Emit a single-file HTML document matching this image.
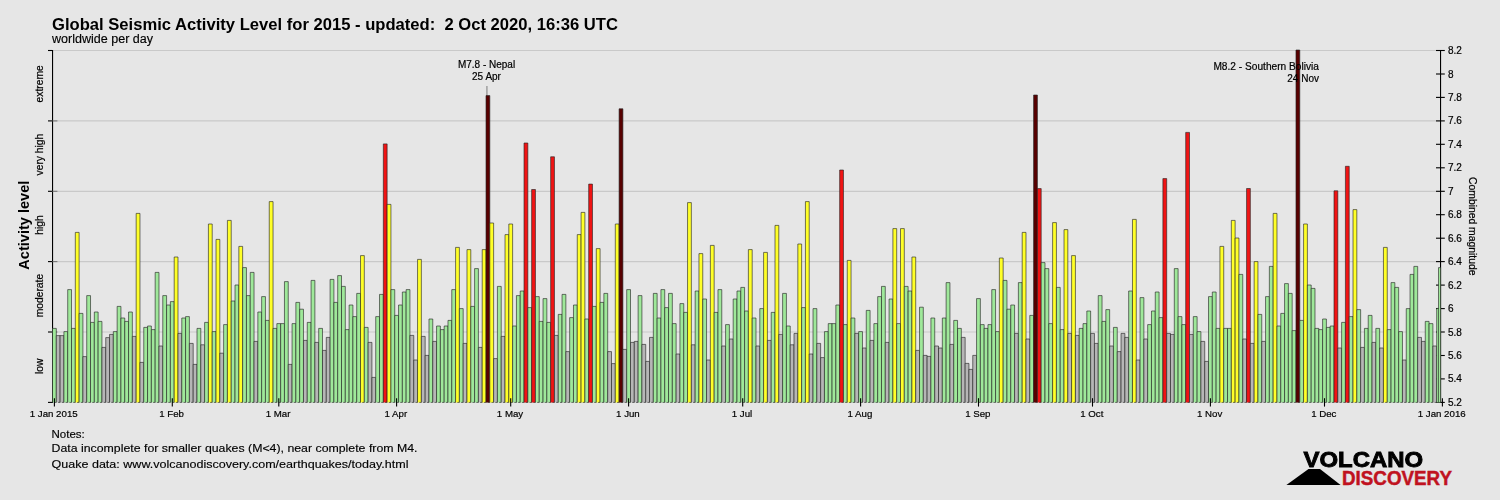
<!DOCTYPE html>
<html><head><meta charset="utf-8"><title>Global Seismic Activity Level for 2015</title>
<style>
html,body{margin:0;padding:0;background:#e6e6e6;}
body{width:1500px;height:500px;overflow:hidden;font-family:"Liberation Sans",sans-serif;}
svg{display:block;font-family:"Liberation Sans",sans-serif;}
.k{filter:grayscale(1)}
.g{fill:#b6b6b6}.n{fill:#9fe89a}.y{fill:#ffff28}.r{fill:#f01414}.d{fill:#580000}
.b path{stroke:#222;stroke-opacity:.62;stroke-width:1}
.t{font-size:10px;fill:#000;stroke:#000;stroke-width:.2px}
</style></head><body>
<svg width="1500" height="500" viewBox="0 0 1500 500">
<rect width="1500" height="500" fill="#e6e6e6"/>

<line x1="53" y1="50.5" x2="1440" y2="50.5" stroke="#c9c9c9" stroke-width="1.2"/>
<line x1="53" y1="120.9" x2="1440" y2="120.9" stroke="#c9c9c9" stroke-width="1.2"/>
<line x1="53" y1="191.3" x2="1440" y2="191.3" stroke="#c9c9c9" stroke-width="1.2"/>
<line x1="53" y1="261.6" x2="1440" y2="261.6" stroke="#c9c9c9" stroke-width="1.2"/>
<line x1="53" y1="332.0" x2="1440" y2="332.0" stroke="#c9c9c9" stroke-width="1.2"/>
<line x1="52.55" y1="50" x2="52.55" y2="402.9" stroke="#000" stroke-width="1.1"/>
<line x1="1440.55" y1="50" x2="1440.55" y2="402.9" stroke="#000" stroke-width="1.1"/>
<line x1="48" y1="50.5" x2="52.5" y2="50.5" stroke="#000" stroke-width="1.1"/>
<line x1="48" y1="120.9" x2="52.5" y2="120.9" stroke="#000" stroke-width="1.1"/>
<line x1="52.5" y1="120.9" x2="57.4" y2="120.9" stroke="#777" stroke-width="1.1"/>
<line x1="48" y1="191.3" x2="52.5" y2="191.3" stroke="#000" stroke-width="1.1"/>
<line x1="52.5" y1="191.3" x2="57.4" y2="191.3" stroke="#777" stroke-width="1.1"/>
<line x1="48" y1="261.6" x2="52.5" y2="261.6" stroke="#000" stroke-width="1.1"/>
<line x1="52.5" y1="261.6" x2="57.4" y2="261.6" stroke="#777" stroke-width="1.1"/>
<line x1="48" y1="332.0" x2="52.5" y2="332.0" stroke="#000" stroke-width="1.1"/>
<line x1="52.5" y1="332.0" x2="57.4" y2="332.0" stroke="#777" stroke-width="1.1"/>
<line x1="48" y1="402.4" x2="52.5" y2="402.4" stroke="#000" stroke-width="1.1"/>
<line x1="1436" y1="402.4" x2="1444.8" y2="402.4" stroke="#000" stroke-width="1.1"/>
<line x1="1436" y1="378.9" x2="1444.8" y2="378.9" stroke="#000" stroke-width="1.1"/>
<line x1="1436" y1="355.5" x2="1444.8" y2="355.5" stroke="#000" stroke-width="1.1"/>
<line x1="1436" y1="332.0" x2="1444.8" y2="332.0" stroke="#000" stroke-width="1.1"/>
<line x1="1436" y1="308.6" x2="1444.8" y2="308.6" stroke="#000" stroke-width="1.1"/>
<line x1="1436" y1="285.1" x2="1444.8" y2="285.1" stroke="#000" stroke-width="1.1"/>
<line x1="1436" y1="261.6" x2="1444.8" y2="261.6" stroke="#000" stroke-width="1.1"/>
<line x1="1436" y1="238.2" x2="1444.8" y2="238.2" stroke="#000" stroke-width="1.1"/>
<line x1="1436" y1="214.7" x2="1444.8" y2="214.7" stroke="#000" stroke-width="1.1"/>
<line x1="1436" y1="191.3" x2="1444.8" y2="191.3" stroke="#000" stroke-width="1.1"/>
<line x1="1436" y1="167.8" x2="1444.8" y2="167.8" stroke="#000" stroke-width="1.1"/>
<line x1="1436" y1="144.3" x2="1444.8" y2="144.3" stroke="#000" stroke-width="1.1"/>
<line x1="1436" y1="120.9" x2="1444.8" y2="120.9" stroke="#000" stroke-width="1.1"/>
<line x1="1436" y1="97.4" x2="1444.8" y2="97.4" stroke="#000" stroke-width="1.1"/>
<line x1="1436" y1="74.0" x2="1444.8" y2="74.0" stroke="#000" stroke-width="1.1"/>
<line x1="1436" y1="50.5" x2="1444.8" y2="50.5" stroke="#000" stroke-width="1.1"/>
<line x1="486.9" y1="86" x2="486.9" y2="96" stroke="#a4a4a4" stroke-width="1.6"/>
<g class="b">
<path class="n" d="M52.50,402.4V328.4h3.80V402.4h-2.09"/>
<path class="g" d="M56.30,402.4V335.6h3.80V402.4h-2.09"/>
<path class="g" d="M60.11,402.4V335.6h3.80V402.4h-2.09"/>
<path class="n" d="M63.91,402.4V331.6h3.80V402.4h-2.09"/>
<path class="n" d="M67.71,402.4V289.6h3.80V402.4h-2.09"/>
<path class="n" d="M71.51,402.4V328.4h3.80V402.4h-2.09"/>
<path class="y" d="M75.32,402.4V232.4h3.80V402.4h-2.09"/>
<path class="n" d="M79.12,402.4V313.4h3.80V402.4h-2.09"/>
<path class="g" d="M82.92,402.4V356.6h3.80V402.4h-2.09"/>
<path class="n" d="M86.72,402.4V295.6h3.80V402.4h-2.09"/>
<path class="n" d="M90.53,402.4V322.4h3.80V402.4h-2.09"/>
<path class="n" d="M94.33,402.4V312.0h3.80V402.4h-2.09"/>
<path class="n" d="M98.13,402.4V321.4h3.80V402.4h-2.09"/>
<path class="g" d="M101.94,402.4V347.4h3.80V402.4h-2.09"/>
<path class="g" d="M105.74,402.4V337.6h3.80V402.4h-2.09"/>
<path class="g" d="M109.54,402.4V334.4h3.80V402.4h-2.09"/>
<path class="n" d="M113.34,402.4V331.6h3.80V402.4h-2.09"/>
<path class="n" d="M117.15,402.4V306.4h3.80V402.4h-2.09"/>
<path class="n" d="M120.95,402.4V318.0h3.80V402.4h-2.09"/>
<path class="n" d="M124.75,402.4V321.4h3.80V402.4h-2.09"/>
<path class="n" d="M128.55,402.4V312.0h3.80V402.4h-2.09"/>
<path class="g" d="M132.36,402.4V336.4h3.80V402.4h-2.09"/>
<path class="y" d="M136.16,402.4V213.4h3.80V402.4h-2.09"/>
<path class="g" d="M139.96,402.4V362.4h3.80V402.4h-2.09"/>
<path class="n" d="M143.76,402.4V327.4h3.80V402.4h-2.09"/>
<path class="n" d="M147.57,402.4V326.0h3.80V402.4h-2.09"/>
<path class="n" d="M151.37,402.4V329.6h3.80V402.4h-2.09"/>
<path class="n" d="M155.17,402.4V272.4h3.80V402.4h-2.09"/>
<path class="g" d="M158.98,402.4V346.0h3.80V402.4h-2.09"/>
<path class="n" d="M162.78,402.4V295.6h3.80V402.4h-2.09"/>
<path class="n" d="M166.58,402.4V305.0h3.80V402.4h-2.09"/>
<path class="n" d="M170.38,402.4V301.6h3.80V402.4h-2.09"/>
<path class="y" d="M174.19,402.4V257.0h3.80V402.4h-2.09"/>
<path class="g" d="M177.99,402.4V333.4h3.80V402.4h-2.09"/>
<path class="n" d="M181.79,402.4V318.0h3.80V402.4h-2.09"/>
<path class="n" d="M185.59,402.4V316.6h3.80V402.4h-2.09"/>
<path class="g" d="M189.40,402.4V343.4h3.80V402.4h-2.09"/>
<path class="g" d="M193.20,402.4V364.4h3.80V402.4h-2.09"/>
<path class="n" d="M197.00,402.4V328.4h3.80V402.4h-2.09"/>
<path class="g" d="M200.81,402.4V344.8h3.80V402.4h-2.09"/>
<path class="n" d="M204.61,402.4V322.4h3.80V402.4h-2.09"/>
<path class="y" d="M208.41,402.4V224.0h3.80V402.4h-2.09"/>
<path class="n" d="M212.21,402.4V331.6h3.80V402.4h-2.09"/>
<path class="y" d="M216.02,402.4V239.4h3.80V402.4h-2.09"/>
<path class="g" d="M219.82,402.4V353.2h3.80V402.4h-2.09"/>
<path class="n" d="M223.62,402.4V324.6h3.80V402.4h-2.09"/>
<path class="y" d="M227.42,402.4V220.4h3.80V402.4h-2.09"/>
<path class="n" d="M231.23,402.4V301.0h3.80V402.4h-2.09"/>
<path class="n" d="M235.03,402.4V285.0h3.80V402.4h-2.09"/>
<path class="y" d="M238.83,402.4V246.4h3.80V402.4h-2.09"/>
<path class="n" d="M242.64,402.4V267.6h3.80V402.4h-2.09"/>
<path class="n" d="M246.44,402.4V295.6h3.80V402.4h-2.09"/>
<path class="n" d="M250.24,402.4V272.4h3.80V402.4h-2.09"/>
<path class="g" d="M254.04,402.4V341.4h3.80V402.4h-2.09"/>
<path class="n" d="M257.85,402.4V312.0h3.80V402.4h-2.09"/>
<path class="n" d="M261.65,402.4V296.6h3.80V402.4h-2.09"/>
<path class="n" d="M265.45,402.4V320.4h3.80V402.4h-2.09"/>
<path class="y" d="M269.25,402.4V201.6h3.80V402.4h-2.09"/>
<path class="n" d="M273.06,402.4V328.4h3.80V402.4h-2.09"/>
<path class="n" d="M276.86,402.4V323.6h3.80V402.4h-2.09"/>
<path class="n" d="M280.66,402.4V323.6h3.80V402.4h-2.09"/>
<path class="n" d="M284.46,402.4V281.6h3.80V402.4h-2.09"/>
<path class="g" d="M288.27,402.4V364.4h3.80V402.4h-2.09"/>
<path class="n" d="M292.07,402.4V323.6h3.80V402.4h-2.09"/>
<path class="n" d="M295.87,402.4V302.4h3.80V402.4h-2.09"/>
<path class="n" d="M299.68,402.4V309.2h3.80V402.4h-2.09"/>
<path class="g" d="M303.48,402.4V340.4h3.80V402.4h-2.09"/>
<path class="n" d="M307.28,402.4V322.4h3.80V402.4h-2.09"/>
<path class="n" d="M311.08,402.4V280.4h3.80V402.4h-2.09"/>
<path class="g" d="M314.89,402.4V342.4h3.80V402.4h-2.09"/>
<path class="n" d="M318.69,402.4V328.4h3.80V402.4h-2.09"/>
<path class="g" d="M322.49,402.4V350.4h3.80V402.4h-2.09"/>
<path class="g" d="M326.29,402.4V337.4h3.80V402.4h-2.09"/>
<path class="n" d="M330.10,402.4V279.4h3.80V402.4h-2.09"/>
<path class="n" d="M333.90,402.4V302.4h3.80V402.4h-2.09"/>
<path class="n" d="M337.70,402.4V275.6h3.80V402.4h-2.09"/>
<path class="n" d="M341.51,402.4V286.4h3.80V402.4h-2.09"/>
<path class="n" d="M345.31,402.4V329.6h3.80V402.4h-2.09"/>
<path class="n" d="M349.11,402.4V305.0h3.80V402.4h-2.09"/>
<path class="n" d="M352.91,402.4V316.6h3.80V402.4h-2.09"/>
<path class="n" d="M356.72,402.4V293.4h3.80V402.4h-2.09"/>
<path class="y" d="M360.52,402.4V255.6h3.80V402.4h-2.09"/>
<path class="n" d="M364.32,402.4V327.4h3.80V402.4h-2.09"/>
<path class="g" d="M368.12,402.4V342.4h3.80V402.4h-2.09"/>
<path class="g" d="M371.93,402.4V377.4h3.80V402.4h-2.09"/>
<path class="n" d="M375.73,402.4V316.6h3.80V402.4h-2.09"/>
<path class="n" d="M379.53,402.4V294.4h3.80V402.4h-2.09"/>
<path class="r" d="M383.33,402.4V143.9h3.80V402.4h-2.09"/>
<path class="y" d="M387.14,402.4V204.4h3.80V402.4h-2.09"/>
<path class="n" d="M390.94,402.4V289.6h3.80V402.4h-2.09"/>
<path class="n" d="M394.74,402.4V315.4h3.80V402.4h-2.09"/>
<path class="n" d="M398.55,402.4V305.0h3.80V402.4h-2.09"/>
<path class="n" d="M402.35,402.4V292.0h3.80V402.4h-2.09"/>
<path class="n" d="M406.15,402.4V289.6h3.80V402.4h-2.09"/>
<path class="g" d="M409.95,402.4V335.4h3.80V402.4h-2.09"/>
<path class="g" d="M413.76,402.4V360.0h3.80V402.4h-2.09"/>
<path class="y" d="M417.56,402.4V259.4h3.80V402.4h-2.09"/>
<path class="g" d="M421.36,402.4V336.4h3.80V402.4h-2.09"/>
<path class="g" d="M425.16,402.4V355.4h3.80V402.4h-2.09"/>
<path class="n" d="M428.97,402.4V319.0h3.80V402.4h-2.09"/>
<path class="g" d="M432.77,402.4V341.4h3.80V402.4h-2.09"/>
<path class="n" d="M436.57,402.4V326.0h3.80V402.4h-2.09"/>
<path class="n" d="M440.38,402.4V329.6h3.80V402.4h-2.09"/>
<path class="n" d="M444.18,402.4V326.0h3.80V402.4h-2.09"/>
<path class="n" d="M447.98,402.4V320.4h3.80V402.4h-2.09"/>
<path class="n" d="M451.78,402.4V289.6h3.80V402.4h-2.09"/>
<path class="y" d="M455.59,402.4V247.4h3.80V402.4h-2.09"/>
<path class="n" d="M459.39,402.4V308.6h3.80V402.4h-2.09"/>
<path class="g" d="M463.19,402.4V343.4h3.80V402.4h-2.09"/>
<path class="y" d="M466.99,402.4V249.6h3.80V402.4h-2.09"/>
<path class="n" d="M470.80,402.4V306.4h3.80V402.4h-2.09"/>
<path class="n" d="M474.60,402.4V268.6h3.80V402.4h-2.09"/>
<path class="g" d="M478.40,402.4V347.4h3.80V402.4h-2.09"/>
<path class="y" d="M482.21,402.4V249.6h3.80V402.4h-2.09"/>
<path class="d" d="M486.01,402.4V95.6h3.80V402.4h-2.09"/>
<path class="y" d="M489.81,402.4V223.0h3.80V402.4h-2.09"/>
<path class="g" d="M493.61,402.4V358.6h3.80V402.4h-2.09"/>
<path class="n" d="M497.42,402.4V286.4h3.80V402.4h-2.09"/>
<path class="g" d="M501.22,402.4V336.4h3.80V402.4h-2.09"/>
<path class="y" d="M505.02,402.4V234.6h3.80V402.4h-2.09"/>
<path class="y" d="M508.82,402.4V224.0h3.80V402.4h-2.09"/>
<path class="n" d="M512.63,402.4V326.0h3.80V402.4h-2.09"/>
<path class="n" d="M516.43,402.4V295.6h3.80V402.4h-2.09"/>
<path class="n" d="M520.23,402.4V291.0h3.80V402.4h-2.09"/>
<path class="r" d="M524.03,402.4V143.0h3.80V402.4h-2.09"/>
<path class="n" d="M527.84,402.4V307.6h3.80V402.4h-2.09"/>
<path class="r" d="M531.64,402.4V189.5h3.80V402.4h-2.09"/>
<path class="n" d="M535.44,402.4V296.6h3.80V402.4h-2.09"/>
<path class="n" d="M539.25,402.4V321.4h3.80V402.4h-2.09"/>
<path class="n" d="M543.05,402.4V298.6h3.80V402.4h-2.09"/>
<path class="n" d="M546.85,402.4V322.4h3.80V402.4h-2.09"/>
<path class="r" d="M550.65,402.4V156.8h3.80V402.4h-2.09"/>
<path class="g" d="M554.46,402.4V335.4h3.80V402.4h-2.09"/>
<path class="n" d="M558.26,402.4V314.4h3.80V402.4h-2.09"/>
<path class="n" d="M562.06,402.4V294.4h3.80V402.4h-2.09"/>
<path class="g" d="M565.86,402.4V351.6h3.80V402.4h-2.09"/>
<path class="n" d="M569.67,402.4V317.6h3.80V402.4h-2.09"/>
<path class="n" d="M573.47,402.4V305.0h3.80V402.4h-2.09"/>
<path class="y" d="M577.27,402.4V234.6h3.80V402.4h-2.09"/>
<path class="y" d="M581.08,402.4V212.4h3.80V402.4h-2.09"/>
<path class="n" d="M584.88,402.4V319.0h3.80V402.4h-2.09"/>
<path class="r" d="M588.68,402.4V184.1h3.80V402.4h-2.09"/>
<path class="n" d="M592.48,402.4V306.4h3.80V402.4h-2.09"/>
<path class="y" d="M596.29,402.4V248.6h3.80V402.4h-2.09"/>
<path class="n" d="M600.09,402.4V302.4h3.80V402.4h-2.09"/>
<path class="n" d="M603.89,402.4V293.4h3.80V402.4h-2.09"/>
<path class="g" d="M607.69,402.4V351.6h3.80V402.4h-2.09"/>
<path class="g" d="M611.50,402.4V363.6h3.80V402.4h-2.09"/>
<path class="y" d="M615.30,402.4V224.0h3.80V402.4h-2.09"/>
<path class="d" d="M619.10,402.4V108.8h3.80V402.4h-2.09"/>
<path class="g" d="M622.90,402.4V349.4h3.80V402.4h-2.09"/>
<path class="n" d="M626.71,402.4V289.6h3.80V402.4h-2.09"/>
<path class="g" d="M630.51,402.4V342.4h3.80V402.4h-2.09"/>
<path class="g" d="M634.31,402.4V341.4h3.80V402.4h-2.09"/>
<path class="n" d="M638.12,402.4V295.6h3.80V402.4h-2.09"/>
<path class="g" d="M641.92,402.4V344.4h3.80V402.4h-2.09"/>
<path class="g" d="M645.72,402.4V361.4h3.80V402.4h-2.09"/>
<path class="g" d="M649.52,402.4V337.4h3.80V402.4h-2.09"/>
<path class="n" d="M653.33,402.4V293.4h3.80V402.4h-2.09"/>
<path class="n" d="M657.13,402.4V318.0h3.80V402.4h-2.09"/>
<path class="n" d="M660.93,402.4V289.6h3.80V402.4h-2.09"/>
<path class="n" d="M664.73,402.4V307.6h3.80V402.4h-2.09"/>
<path class="n" d="M668.54,402.4V293.4h3.80V402.4h-2.09"/>
<path class="n" d="M672.34,402.4V323.6h3.80V402.4h-2.09"/>
<path class="g" d="M676.14,402.4V354.0h3.80V402.4h-2.09"/>
<path class="n" d="M679.95,402.4V303.6h3.80V402.4h-2.09"/>
<path class="n" d="M683.75,402.4V312.4h3.80V402.4h-2.09"/>
<path class="y" d="M687.55,402.4V202.6h3.80V402.4h-2.09"/>
<path class="g" d="M691.35,402.4V344.8h3.80V402.4h-2.09"/>
<path class="n" d="M695.16,402.4V291.0h3.80V402.4h-2.09"/>
<path class="y" d="M698.96,402.4V253.6h3.80V402.4h-2.09"/>
<path class="n" d="M702.76,402.4V299.0h3.80V402.4h-2.09"/>
<path class="g" d="M706.56,402.4V360.0h3.80V402.4h-2.09"/>
<path class="y" d="M710.37,402.4V245.4h3.80V402.4h-2.09"/>
<path class="n" d="M714.17,402.4V312.4h3.80V402.4h-2.09"/>
<path class="n" d="M717.97,402.4V289.6h3.80V402.4h-2.09"/>
<path class="g" d="M721.78,402.4V346.0h3.80V402.4h-2.09"/>
<path class="n" d="M725.58,402.4V324.6h3.80V402.4h-2.09"/>
<path class="g" d="M729.38,402.4V339.0h3.80V402.4h-2.09"/>
<path class="n" d="M733.18,402.4V299.0h3.80V402.4h-2.09"/>
<path class="n" d="M736.99,402.4V291.0h3.80V402.4h-2.09"/>
<path class="n" d="M740.79,402.4V287.4h3.80V402.4h-2.09"/>
<path class="n" d="M744.59,402.4V311.0h3.80V402.4h-2.09"/>
<path class="y" d="M748.39,402.4V249.6h3.80V402.4h-2.09"/>
<path class="n" d="M752.20,402.4V318.0h3.80V402.4h-2.09"/>
<path class="g" d="M756.00,402.4V346.0h3.80V402.4h-2.09"/>
<path class="n" d="M759.80,402.4V308.6h3.80V402.4h-2.09"/>
<path class="y" d="M763.60,402.4V252.4h3.80V402.4h-2.09"/>
<path class="g" d="M767.41,402.4V340.4h3.80V402.4h-2.09"/>
<path class="n" d="M771.21,402.4V312.4h3.80V402.4h-2.09"/>
<path class="y" d="M775.01,402.4V225.4h3.80V402.4h-2.09"/>
<path class="g" d="M778.82,402.4V334.4h3.80V402.4h-2.09"/>
<path class="n" d="M782.62,402.4V293.4h3.80V402.4h-2.09"/>
<path class="n" d="M786.42,402.4V326.0h3.80V402.4h-2.09"/>
<path class="g" d="M790.22,402.4V344.8h3.80V402.4h-2.09"/>
<path class="g" d="M794.03,402.4V333.4h3.80V402.4h-2.09"/>
<path class="y" d="M797.83,402.4V244.0h3.80V402.4h-2.09"/>
<path class="n" d="M801.63,402.4V307.6h3.80V402.4h-2.09"/>
<path class="y" d="M805.43,402.4V201.6h3.80V402.4h-2.09"/>
<path class="g" d="M809.24,402.4V354.0h3.80V402.4h-2.09"/>
<path class="n" d="M813.04,402.4V308.6h3.80V402.4h-2.09"/>
<path class="g" d="M816.84,402.4V343.4h3.80V402.4h-2.09"/>
<path class="g" d="M820.65,402.4V357.6h3.80V402.4h-2.09"/>
<path class="n" d="M824.45,402.4V331.6h3.80V402.4h-2.09"/>
<path class="n" d="M828.25,402.4V323.6h3.80V402.4h-2.09"/>
<path class="n" d="M832.05,402.4V323.6h3.80V402.4h-2.09"/>
<path class="n" d="M835.86,402.4V305.0h3.80V402.4h-2.09"/>
<path class="r" d="M839.66,402.4V170.0h3.80V402.4h-2.09"/>
<path class="n" d="M843.46,402.4V324.6h3.80V402.4h-2.09"/>
<path class="y" d="M847.26,402.4V260.4h3.80V402.4h-2.09"/>
<path class="n" d="M851.07,402.4V318.0h3.80V402.4h-2.09"/>
<path class="g" d="M854.87,402.4V333.4h3.80V402.4h-2.09"/>
<path class="n" d="M858.67,402.4V331.6h3.80V402.4h-2.09"/>
<path class="g" d="M862.48,402.4V348.0h3.80V402.4h-2.09"/>
<path class="n" d="M866.28,402.4V310.4h3.80V402.4h-2.09"/>
<path class="g" d="M870.08,402.4V340.4h3.80V402.4h-2.09"/>
<path class="n" d="M873.88,402.4V323.6h3.80V402.4h-2.09"/>
<path class="n" d="M877.69,402.4V296.6h3.80V402.4h-2.09"/>
<path class="n" d="M881.49,402.4V286.4h3.80V402.4h-2.09"/>
<path class="g" d="M885.29,402.4V342.4h3.80V402.4h-2.09"/>
<path class="n" d="M889.09,402.4V299.0h3.80V402.4h-2.09"/>
<path class="y" d="M892.90,402.4V228.6h3.80V402.4h-2.09"/>
<path class="n" d="M896.70,402.4V323.6h3.80V402.4h-2.09"/>
<path class="y" d="M900.50,402.4V228.6h3.80V402.4h-2.09"/>
<path class="n" d="M904.30,402.4V286.4h3.80V402.4h-2.09"/>
<path class="n" d="M908.11,402.4V291.0h3.80V402.4h-2.09"/>
<path class="y" d="M911.91,402.4V257.0h3.80V402.4h-2.09"/>
<path class="g" d="M915.71,402.4V350.4h3.80V402.4h-2.09"/>
<path class="n" d="M919.52,402.4V307.2h3.80V402.4h-2.09"/>
<path class="g" d="M923.32,402.4V355.4h3.80V402.4h-2.09"/>
<path class="g" d="M927.12,402.4V356.4h3.80V402.4h-2.09"/>
<path class="n" d="M930.92,402.4V318.0h3.80V402.4h-2.09"/>
<path class="g" d="M934.73,402.4V346.0h3.80V402.4h-2.09"/>
<path class="g" d="M938.53,402.4V348.0h3.80V402.4h-2.09"/>
<path class="n" d="M942.33,402.4V318.0h3.80V402.4h-2.09"/>
<path class="n" d="M946.13,402.4V282.6h3.80V402.4h-2.09"/>
<path class="g" d="M949.94,402.4V344.4h3.80V402.4h-2.09"/>
<path class="n" d="M953.74,402.4V320.4h3.80V402.4h-2.09"/>
<path class="n" d="M957.54,402.4V328.4h3.80V402.4h-2.09"/>
<path class="g" d="M961.35,402.4V337.4h3.80V402.4h-2.09"/>
<path class="g" d="M965.15,402.4V363.4h3.80V402.4h-2.09"/>
<path class="g" d="M968.95,402.4V369.4h3.80V402.4h-2.09"/>
<path class="g" d="M972.75,402.4V355.4h3.80V402.4h-2.09"/>
<path class="n" d="M976.56,402.4V298.6h3.80V402.4h-2.09"/>
<path class="n" d="M980.36,402.4V324.6h3.80V402.4h-2.09"/>
<path class="n" d="M984.16,402.4V328.4h3.80V402.4h-2.09"/>
<path class="n" d="M987.96,402.4V324.6h3.80V402.4h-2.09"/>
<path class="n" d="M991.77,402.4V289.6h3.80V402.4h-2.09"/>
<path class="n" d="M995.57,402.4V331.6h3.80V402.4h-2.09"/>
<path class="y" d="M999.37,402.4V258.0h3.80V402.4h-2.09"/>
<path class="n" d="M1003.18,402.4V280.4h3.80V402.4h-2.09"/>
<path class="n" d="M1006.98,402.4V309.2h3.80V402.4h-2.09"/>
<path class="n" d="M1010.78,402.4V305.0h3.80V402.4h-2.09"/>
<path class="g" d="M1014.58,402.4V333.4h3.80V402.4h-2.09"/>
<path class="n" d="M1018.39,402.4V282.6h3.80V402.4h-2.09"/>
<path class="y" d="M1022.19,402.4V232.4h3.80V402.4h-2.09"/>
<path class="g" d="M1025.99,402.4V339.0h3.80V402.4h-2.09"/>
<path class="n" d="M1029.79,402.4V315.4h3.80V402.4h-2.09"/>
<path class="d" d="M1033.60,402.4V95.0h3.80V402.4h-2.09"/>
<path class="r" d="M1037.40,402.4V188.6h3.80V402.4h-2.09"/>
<path class="n" d="M1041.20,402.4V262.6h3.80V402.4h-2.09"/>
<path class="n" d="M1045.00,402.4V268.6h3.80V402.4h-2.09"/>
<path class="n" d="M1048.81,402.4V323.6h3.80V402.4h-2.09"/>
<path class="y" d="M1052.61,402.4V222.6h3.80V402.4h-2.09"/>
<path class="n" d="M1056.41,402.4V287.4h3.80V402.4h-2.09"/>
<path class="n" d="M1060.22,402.4V329.6h3.80V402.4h-2.09"/>
<path class="y" d="M1064.02,402.4V229.6h3.80V402.4h-2.09"/>
<path class="g" d="M1067.82,402.4V333.4h3.80V402.4h-2.09"/>
<path class="y" d="M1071.62,402.4V255.6h3.80V402.4h-2.09"/>
<path class="g" d="M1075.43,402.4V335.4h3.80V402.4h-2.09"/>
<path class="n" d="M1079.23,402.4V328.4h3.80V402.4h-2.09"/>
<path class="n" d="M1083.03,402.4V323.6h3.80V402.4h-2.09"/>
<path class="n" d="M1086.83,402.4V311.0h3.80V402.4h-2.09"/>
<path class="g" d="M1090.64,402.4V333.4h3.80V402.4h-2.09"/>
<path class="g" d="M1094.44,402.4V343.4h3.80V402.4h-2.09"/>
<path class="n" d="M1098.24,402.4V295.6h3.80V402.4h-2.09"/>
<path class="n" d="M1102.05,402.4V321.4h3.80V402.4h-2.09"/>
<path class="n" d="M1105.85,402.4V309.6h3.80V402.4h-2.09"/>
<path class="g" d="M1109.65,402.4V346.0h3.80V402.4h-2.09"/>
<path class="n" d="M1113.45,402.4V327.4h3.80V402.4h-2.09"/>
<path class="g" d="M1117.26,402.4V351.6h3.80V402.4h-2.09"/>
<path class="g" d="M1121.06,402.4V333.4h3.80V402.4h-2.09"/>
<path class="g" d="M1124.86,402.4V337.4h3.80V402.4h-2.09"/>
<path class="n" d="M1128.66,402.4V291.0h3.80V402.4h-2.09"/>
<path class="y" d="M1132.47,402.4V219.4h3.80V402.4h-2.09"/>
<path class="g" d="M1136.27,402.4V360.0h3.80V402.4h-2.09"/>
<path class="n" d="M1140.07,402.4V297.6h3.80V402.4h-2.09"/>
<path class="g" d="M1143.87,402.4V339.0h3.80V402.4h-2.09"/>
<path class="n" d="M1147.68,402.4V324.6h3.80V402.4h-2.09"/>
<path class="n" d="M1151.48,402.4V311.0h3.80V402.4h-2.09"/>
<path class="n" d="M1155.28,402.4V292.0h3.80V402.4h-2.09"/>
<path class="n" d="M1159.09,402.4V317.6h3.80V402.4h-2.09"/>
<path class="r" d="M1162.89,402.4V178.6h3.80V402.4h-2.09"/>
<path class="g" d="M1166.69,402.4V333.4h3.80V402.4h-2.09"/>
<path class="g" d="M1170.49,402.4V334.4h3.80V402.4h-2.09"/>
<path class="n" d="M1174.30,402.4V268.6h3.80V402.4h-2.09"/>
<path class="n" d="M1178.10,402.4V316.6h3.80V402.4h-2.09"/>
<path class="n" d="M1181.90,402.4V324.6h3.80V402.4h-2.09"/>
<path class="r" d="M1185.70,402.4V132.4h3.80V402.4h-2.09"/>
<path class="g" d="M1189.51,402.4V334.4h3.80V402.4h-2.09"/>
<path class="n" d="M1193.31,402.4V316.6h3.80V402.4h-2.09"/>
<path class="n" d="M1197.11,402.4V331.6h3.80V402.4h-2.09"/>
<path class="g" d="M1200.92,402.4V341.4h3.80V402.4h-2.09"/>
<path class="g" d="M1204.72,402.4V361.4h3.80V402.4h-2.09"/>
<path class="n" d="M1208.52,402.4V296.6h3.80V402.4h-2.09"/>
<path class="n" d="M1212.32,402.4V292.0h3.80V402.4h-2.09"/>
<path class="n" d="M1216.13,402.4V328.4h3.80V402.4h-2.09"/>
<path class="y" d="M1219.93,402.4V246.4h3.80V402.4h-2.09"/>
<path class="n" d="M1223.73,402.4V328.4h3.80V402.4h-2.09"/>
<path class="n" d="M1227.53,402.4V328.4h3.80V402.4h-2.09"/>
<path class="y" d="M1231.34,402.4V220.4h3.80V402.4h-2.09"/>
<path class="y" d="M1235.14,402.4V238.0h3.80V402.4h-2.09"/>
<path class="n" d="M1238.94,402.4V274.4h3.80V402.4h-2.09"/>
<path class="g" d="M1242.75,402.4V339.0h3.80V402.4h-2.09"/>
<path class="r" d="M1246.55,402.4V188.5h3.80V402.4h-2.09"/>
<path class="g" d="M1250.35,402.4V343.4h3.80V402.4h-2.09"/>
<path class="y" d="M1254.15,402.4V261.6h3.80V402.4h-2.09"/>
<path class="n" d="M1257.96,402.4V314.4h3.80V402.4h-2.09"/>
<path class="g" d="M1261.76,402.4V341.4h3.80V402.4h-2.09"/>
<path class="n" d="M1265.56,402.4V296.6h3.80V402.4h-2.09"/>
<path class="n" d="M1269.36,402.4V266.4h3.80V402.4h-2.09"/>
<path class="y" d="M1273.17,402.4V213.4h3.80V402.4h-2.09"/>
<path class="n" d="M1276.97,402.4V326.0h3.80V402.4h-2.09"/>
<path class="n" d="M1280.77,402.4V313.4h3.80V402.4h-2.09"/>
<path class="n" d="M1284.57,402.4V283.6h3.80V402.4h-2.09"/>
<path class="n" d="M1288.38,402.4V293.4h3.80V402.4h-2.09"/>
<path class="n" d="M1292.18,402.4V330.6h3.80V402.4h-2.09"/>
<path class="d" d="M1295.98,402.4V50.0h3.80V402.4h-2.09"/>
<path class="n" d="M1299.79,402.4V320.4h3.80V402.4h-2.09"/>
<path class="y" d="M1303.59,402.4V224.0h3.80V402.4h-2.09"/>
<path class="n" d="M1307.39,402.4V285.0h3.80V402.4h-2.09"/>
<path class="n" d="M1311.19,402.4V288.4h3.80V402.4h-2.09"/>
<path class="n" d="M1315.00,402.4V328.4h3.80V402.4h-2.09"/>
<path class="n" d="M1318.80,402.4V329.6h3.80V402.4h-2.09"/>
<path class="n" d="M1322.60,402.4V319.0h3.80V402.4h-2.09"/>
<path class="n" d="M1326.40,402.4V327.4h3.80V402.4h-2.09"/>
<path class="n" d="M1330.21,402.4V326.0h3.80V402.4h-2.09"/>
<path class="r" d="M1334.01,402.4V190.8h3.80V402.4h-2.09"/>
<path class="g" d="M1337.81,402.4V348.0h3.80V402.4h-2.09"/>
<path class="n" d="M1341.62,402.4V322.4h3.80V402.4h-2.09"/>
<path class="r" d="M1345.42,402.4V166.3h3.80V402.4h-2.09"/>
<path class="n" d="M1349.22,402.4V316.6h3.80V402.4h-2.09"/>
<path class="y" d="M1353.02,402.4V209.6h3.80V402.4h-2.09"/>
<path class="n" d="M1356.83,402.4V309.6h3.80V402.4h-2.09"/>
<path class="g" d="M1360.63,402.4V347.4h3.80V402.4h-2.09"/>
<path class="n" d="M1364.43,402.4V328.4h3.80V402.4h-2.09"/>
<path class="n" d="M1368.23,402.4V315.4h3.80V402.4h-2.09"/>
<path class="g" d="M1372.04,402.4V342.4h3.80V402.4h-2.09"/>
<path class="n" d="M1375.84,402.4V328.4h3.80V402.4h-2.09"/>
<path class="g" d="M1379.64,402.4V348.0h3.80V402.4h-2.09"/>
<path class="y" d="M1383.45,402.4V247.4h3.80V402.4h-2.09"/>
<path class="n" d="M1387.25,402.4V329.6h3.80V402.4h-2.09"/>
<path class="n" d="M1391.05,402.4V282.6h3.80V402.4h-2.09"/>
<path class="n" d="M1394.85,402.4V287.4h3.80V402.4h-2.09"/>
<path class="n" d="M1398.66,402.4V331.6h3.80V402.4h-2.09"/>
<path class="g" d="M1402.46,402.4V360.0h3.80V402.4h-2.09"/>
<path class="n" d="M1406.26,402.4V308.6h3.80V402.4h-2.09"/>
<path class="n" d="M1410.06,402.4V274.4h3.80V402.4h-2.09"/>
<path class="n" d="M1413.87,402.4V266.4h3.80V402.4h-2.09"/>
<path class="g" d="M1417.67,402.4V337.4h3.80V402.4h-2.09"/>
<path class="g" d="M1421.47,402.4V341.4h3.80V402.4h-2.09"/>
<path class="n" d="M1425.27,402.4V321.4h3.80V402.4h-2.09"/>
<path class="n" d="M1429.08,402.4V323.6h3.80V402.4h-2.09"/>
<path class="g" d="M1432.88,402.4V346.0h3.80V402.4h-2.09"/>
<path class="n" d="M1436.68,402.4V308.4h3.80V402.4h-2.09"/>
<path class="n" d="M1438.50,402.4V267.6h2.10V402.4h-1.15"/>
</g>
<g class="k">
<line x1="48" y1="402.4" x2="1444.8" y2="402.4" stroke="#000" stroke-width="0"/>
<text class="t" x="1448" y="405.9">5.2</text>
<text class="t" x="1448" y="382.4">5.4</text>
<text class="t" x="1448" y="359.0">5.6</text>
<text class="t" x="1448" y="335.5">5.8</text>
<text class="t" x="1448" y="312.1">6</text>
<text class="t" x="1448" y="288.6">6.2</text>
<text class="t" x="1448" y="265.1">6.4</text>
<text class="t" x="1448" y="241.7">6.6</text>
<text class="t" x="1448" y="218.2">6.8</text>
<text class="t" x="1448" y="194.8">7</text>
<text class="t" x="1448" y="171.3">7.2</text>
<text class="t" x="1448" y="147.8">7.4</text>
<text class="t" x="1448" y="124.4">7.6</text>
<text class="t" x="1448" y="100.9">7.8</text>
<text class="t" x="1448" y="77.5">8</text>
<text class="t" x="1448" y="54.0">8.2</text>
<line x1="54.4" y1="398.2" x2="54.4" y2="406.6" stroke="#000" stroke-width="1.1"/>
<text class="t" style="font-size:9.7px" x="53.7" y="416.8" text-anchor="middle">1 Jan 2015</text>
<line x1="172.3" y1="398.2" x2="172.3" y2="406.6" stroke="#000" stroke-width="1.1"/>
<text class="t" style="font-size:9.7px" x="171.6" y="416.8" text-anchor="middle">1 Feb</text>
<line x1="278.8" y1="398.2" x2="278.8" y2="406.6" stroke="#000" stroke-width="1.1"/>
<text class="t" style="font-size:9.7px" x="278.1" y="416.8" text-anchor="middle">1 Mar</text>
<line x1="396.6" y1="398.2" x2="396.6" y2="406.6" stroke="#000" stroke-width="1.1"/>
<text class="t" style="font-size:9.7px" x="395.9" y="416.8" text-anchor="middle">1 Apr</text>
<line x1="510.7" y1="398.2" x2="510.7" y2="406.6" stroke="#000" stroke-width="1.1"/>
<text class="t" style="font-size:9.7px" x="510.0" y="416.8" text-anchor="middle">1 May</text>
<line x1="628.6" y1="398.2" x2="628.6" y2="406.6" stroke="#000" stroke-width="1.1"/>
<text class="t" style="font-size:9.7px" x="627.9" y="416.8" text-anchor="middle">1 Jun</text>
<line x1="742.7" y1="398.2" x2="742.7" y2="406.6" stroke="#000" stroke-width="1.1"/>
<text class="t" style="font-size:9.7px" x="742.0" y="416.8" text-anchor="middle">1 Jul</text>
<line x1="860.6" y1="398.2" x2="860.6" y2="406.6" stroke="#000" stroke-width="1.1"/>
<text class="t" style="font-size:9.7px" x="859.9" y="416.8" text-anchor="middle">1 Aug</text>
<line x1="978.5" y1="398.2" x2="978.5" y2="406.6" stroke="#000" stroke-width="1.1"/>
<text class="t" style="font-size:9.7px" x="977.8" y="416.8" text-anchor="middle">1 Sep</text>
<line x1="1092.5" y1="398.2" x2="1092.5" y2="406.6" stroke="#000" stroke-width="1.1"/>
<text class="t" style="font-size:9.7px" x="1091.8" y="416.8" text-anchor="middle">1 Oct</text>
<line x1="1210.4" y1="398.2" x2="1210.4" y2="406.6" stroke="#000" stroke-width="1.1"/>
<text class="t" style="font-size:9.7px" x="1209.7" y="416.8" text-anchor="middle">1 Nov</text>
<line x1="1324.5" y1="398.2" x2="1324.5" y2="406.6" stroke="#000" stroke-width="1.1"/>
<text class="t" style="font-size:9.7px" x="1323.8" y="416.8" text-anchor="middle">1 Dec</text>
<line x1="1442.4" y1="398.2" x2="1442.4" y2="406.6" stroke="#000" stroke-width="1.1"/>
<text class="t" style="font-size:9.7px" x="1441.7" y="416.8" text-anchor="middle">1 Jan 2016</text>
<text x="52" y="30" font-size="17px" font-weight="bold" fill="#000" textLength="566" lengthAdjust="spacingAndGlyphs" style="white-space:pre">Global Seismic Activity Level for 2015 - updated:  2 Oct 2020, 16:36 UTC</text>
<text x="52" y="43" font-size="12px" fill="#000" stroke="#000" stroke-width=".15" textLength="101" lengthAdjust="spacingAndGlyphs">worldwide per day</text>
<text class="t" style="font-size:10.3px" transform="translate(42.8,366.3) rotate(-90)" text-anchor="middle">low</text>
<text class="t" style="font-size:10.3px" transform="translate(42.8,295.6) rotate(-90)" text-anchor="middle">moderate</text>
<text class="t" style="font-size:10.3px" transform="translate(42.8,225.0) rotate(-90)" text-anchor="middle">high</text>
<text class="t" style="font-size:10.3px" transform="translate(42.8,154.6) rotate(-90)" text-anchor="middle">very high</text>
<text class="t" style="font-size:10.3px" transform="translate(42.8,83.9) rotate(-90)" text-anchor="middle">extreme</text>
<text transform="translate(28.5,225.2) rotate(-90)" text-anchor="middle" font-size="14px" font-weight="bold" fill="#000" textLength="89" lengthAdjust="spacingAndGlyphs">Activity level</text>
<text class="t" transform="translate(1468.7,177) rotate(90)" textLength="98.5" lengthAdjust="spacingAndGlyphs">Combined magnitude</text>
<text class="t" x="486.5" y="68.4" text-anchor="middle">M7.8 - Nepal</text>
<text class="t" x="486.5" y="80" text-anchor="middle">25 Apr</text>
<text class="t" x="1213.4" y="70" textLength="105.6" lengthAdjust="spacingAndGlyphs">M8.2 - Southern Bolivia</text>
<text class="t" x="1319" y="82" text-anchor="end">24 Nov</text>
<text x="51.5" y="437.8" font-size="11.5px" fill="#000" stroke="#000" stroke-width=".15">Notes:</text>
<text x="51.5" y="452.4" font-size="11.5px" fill="#000" stroke="#000" stroke-width=".15" textLength="366" lengthAdjust="spacingAndGlyphs">Data incomplete for smaller quakes (M&lt;4), near complete from M4.</text>
<text x="51.5" y="468" font-size="11.5px" fill="#000" stroke="#000" stroke-width=".15" textLength="357" lengthAdjust="spacingAndGlyphs">Quake data: www.volcanodiscovery.com/earthquakes/today.html</text>
<polygon points="1286.4,485 1308.5,469 1320,469 1340.6,485" fill="#000"/>
<text x="1303.5" y="467" font-size="22px" font-weight="bold" fill="#000" stroke="#000" stroke-width="0.9" textLength="119.5" lengthAdjust="spacingAndGlyphs">VOLCANO</text>
</g>
<text x="1342" y="485" font-size="19.5px" font-weight="bold" fill="#c0121f" stroke="#c0121f" stroke-width="0.45" textLength="110" lengthAdjust="spacingAndGlyphs">DISCOVERY</text>
</svg></body></html>
